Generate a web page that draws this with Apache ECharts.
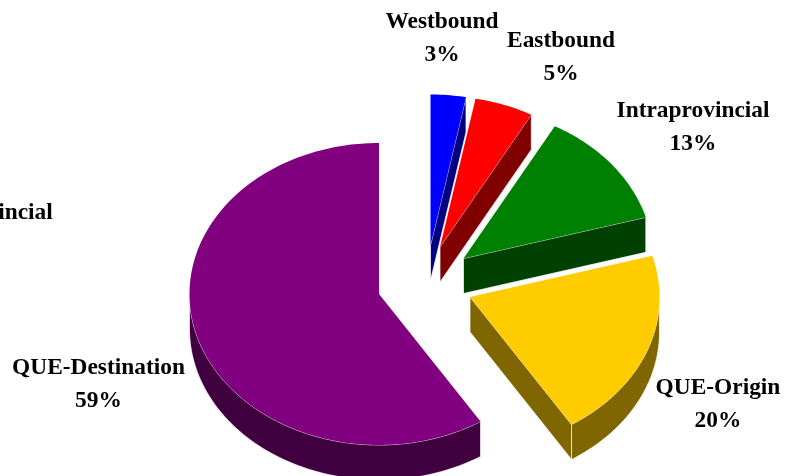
<!DOCTYPE html>
<html>
<head>
<meta charset="utf-8">
<style>html,body{margin:0;padding:0;background:#fff}#c{width:794px;height:476px}</style>
<script src="https://cdn.jsdelivr.net/npm/echarts@6/dist/echarts.min.js"></script>
</head>
<body>
<div id="c"></div>
<script>
// Data, clockwise from 12 o'clock
const categories = ['Westbound', 'Eastbound', 'Intraprovincial', 'QUE-Origin', 'QUE-Destination', 'Interprovincial'];
const shares = [3, 5, 12.6, 20.4, 59, 0];

// Styles
const topColors = ['#0000ff', '#ff0000', '#008000', '#ffcc00', '#800080', '#000000'];
const wallColors = ['#000080', '#800000', '#004000', '#806600', '#400040', '#000000'];
// Layout
const apexes = [[430.5, 245.5], [440, 247], [463.5, 258.5], [470, 297], [379, 294], [379, 294]];
const labelAnchors = [[442, 38], [561, 57], [693, 127], [718, 404.5], [98.5, 384], [-23, 229]];
const RX = 189.5, RY = 151, DEPTH = 35;
const total = shares.reduce((a, b) => a + b, 0);
const starts = [];
shares.reduce((acc, v, i) => { starts[i] = acc; return acc + v; }, 0);

function rim(apex, deg) {
  const r = deg * Math.PI / 180;
  return [apex[0] + RX * Math.sin(r), apex[1] - RY * Math.cos(r)];
}
function down(p) { return [p[0], p[1] + DEPTH]; }

function renderItem(params, api) {
  const i = params.dataIndex;
  const a0 = starts[i] / total * 360, a1 = (starts[i] + shares[i]) / total * 360;
  const apex = apexes[i];
  const children = [];
  const wallStyle = { fill: wallColors[i], stroke: '#ffffff', lineWidth: 0.7 };

  if (shares[i] > 0) {
    // outer rim wall, front half of the ellipse only
    const v0 = Math.max(a0, 90), v1 = Math.min(a1, 270);
    if (v1 > v0) {
      const upper = [];
      for (let d = v0; d < v1; d += 1) upper.push(rim(apex, d));
      upper.push(rim(apex, v1));
      const lower = upper.map(down).reverse();
      children.push({ type: 'polygon', shape: { points: upper.concat(lower) }, style: wallStyle });
    }
    // cut faces
    const addCut = (deg) => {
      const p = rim(apex, deg);
      children.push({ type: 'polygon', shape: { points: [apex, p, down(p), down(apex)] }, style: wallStyle });
    };
    if (a1 > 0 && a1 < 180) addCut(a1);
    if (a0 > 180 && a0 < 360) addCut(a0);
    // top face
    const pts = [apex];
    for (let d = a0; d < a1; d += 1) pts.push(rim(apex, d));
    pts.push(rim(apex, a1));
    children.push({ type: 'polygon', shape: { points: pts }, style: { fill: topColors[i] } });
  }
  // label
  children.push({
    type: 'text',
    style: {
      x: labelAnchors[i][0], y: labelAnchors[i][1],
      text: categories[i] + '\n' + Math.round(shares[i]) + '%',
      align: 'center', verticalAlign: 'middle',
      font: 'bold 23.4px "Liberation Serif", serif',
      lineHeight: 33, fill: '#000000'
    }
  });
  return { type: 'group', children };
}

const chart = echarts.init(document.getElementById('c'), null, { renderer: 'canvas' });
chart.setOption({
  animation: false,
  backgroundColor: '#ffffff',
  series: [{
    type: 'custom',
    coordinateSystem: 'none',
    renderItem,
    clip: false,
    silent: true,
    data: categories.map((name, i) => ({ name, value: shares[i] }))
  }]
});
</script>
</body>
</html>
